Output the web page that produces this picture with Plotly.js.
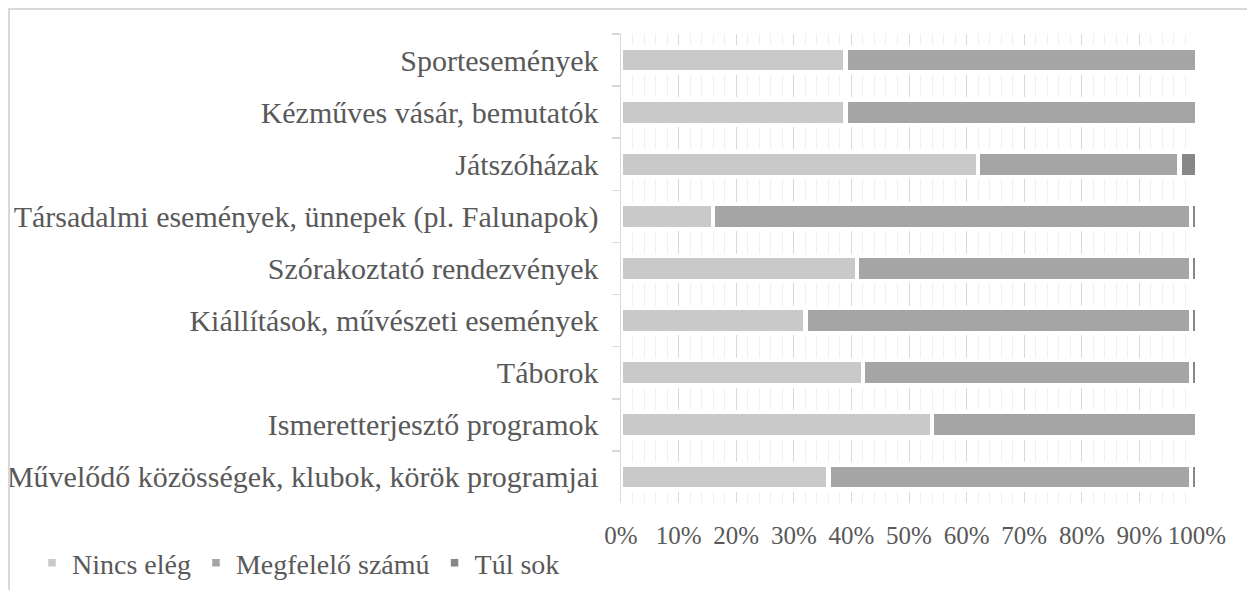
<!DOCTYPE html>
<html><head><meta charset="utf-8">
<script src="https://cdn.plot.ly/plotly-3.0.1.min.js"></script>
<style>
html,body{margin:0;padding:0;background:#fff;overflow:hidden}
#frame{position:absolute;left:8px;top:8px;width:1400px;height:800px;border-left:2px solid #d9d9d9;border-top:2px solid #d9d9d9;pointer-events:none;z-index:5}
</style></head><body>
<div id="chart" style="position:absolute;left:0;top:0;width:1247px;height:590px"></div>
<div id="frame"></div>
<script>
const categories = [
  'Sportesemények',
  'Kézműves vásár, bemutatók',
  'Játszóházak',
  'Társadalmi események, ünnepek (pl. Falunapok)',
  'Szórakoztató rendezvények',
  'Kiállítások, művészeti események',
  'Táborok',
  'Ismeretterjesztő programok',
  'Művelődő közösségek, klubok, körök programjai'
];
const nincsEleg = [39, 39, 62, 16, 41, 32, 42, 54, 36];
const megfelelo = [61, 61, 35, 83, 58, 67, 57, 46, 63];
const tulSok    = [0, 0, 3, 1, 1, 1, 1, 0, 1];
const seriesNames = ['Nincs elég', 'Megfelelő számú', 'Túl sok'];
const seriesColors = ['#c9c9c9', '#a5a5a5', '#878787'];
const xTickVals = [0, 10, 20, 30, 40, 50, 60, 70, 80, 90, 100];
const xTickText = ['0%', '10%', '20%', '30%', '40%', '50%', '60%', '70%', '80%', '90%', '100%'];

const font = '"Liberation Serif", "Times New Roman", serif';
const textColor = '#595959';
const values = [nincsEleg, megfelelo, tulSok];

const traces = values.map((v, i) => ({
  type: 'bar',
  orientation: 'h',
  name: seriesNames[i],
  x: v,
  y: categories,
  marker: {color: seriesColors[i], line: {color: '#ffffff', width: 4.5}},
  hoverinfo: 'skip'
}));

const layout = {
  width: 1247, height: 590,
  margin: {l: 621, r: 50, t: 34, b: 87, pad: 0},
  paper_bgcolor: '#ffffff', plot_bgcolor: '#ffffff',
  barmode: 'stack',
  bargap: 0.516,
  font: {family: font, color: textColor, size: 24},
  xaxis: {
    range: [0, 100], fixedrange: true,
    tickvals: xTickVals, ticktext: xTickText,
    showgrid: true, gridcolor: '#d9d9d9', gridwidth: 1,
    minor: {dtick: 2, tick0: 0, showgrid: true, gridcolor: '#f0f0f0', gridwidth: 1},
    zeroline: false, showline: false, ticks: '',
    tickfont: {family: font, color: textColor, size: 25},
    ticklabelstandoff: 15
  },
  yaxis: {
    type: 'category', autorange: 'reversed', fixedrange: true,
    showgrid: false, zeroline: false,
    showline: true, linecolor: '#d9d9d9', linewidth: 1.5,
    ticks: 'outside', ticklen: 8, tickcolor: '#d9d9d9', tickwidth: 1.5,
    tickson: 'boundaries',
    tickfont: {family: font, color: textColor, size: 30},
    ticklabelstandoff: 15
  },
  showlegend: true,
  legend: {
    orientation: 'h', xref: 'container', yref: 'container',
    x: 32 / 1247, xanchor: 'left', y: 27 / 590, yanchor: 'middle',
    font: {family: font, color: textColor, size: 28},
    traceorder: 'normal', bgcolor: 'rgba(0,0,0,0)'
  }
};

Plotly.newPlot('chart', traces, layout, {displayModeBar: false, staticPlot: true});
</script>
</body></html>
